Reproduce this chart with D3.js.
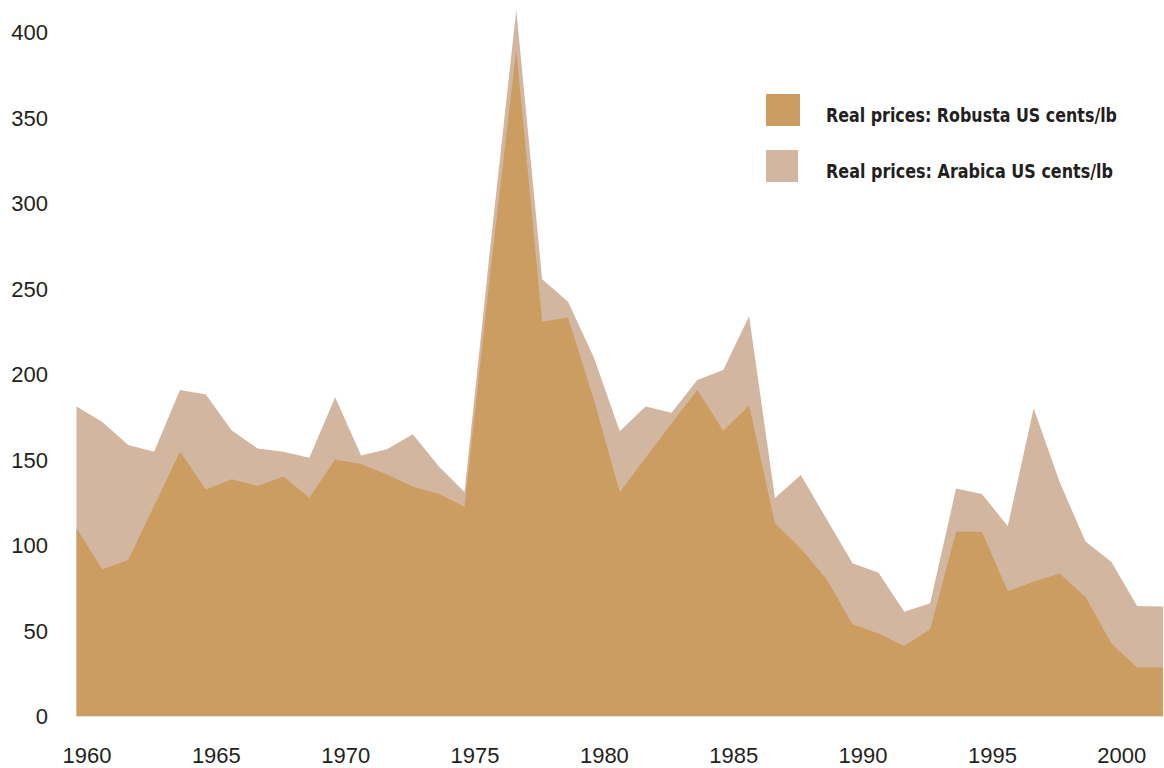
<!DOCTYPE html>
<html lang="en">
<head>
<meta charset="UTF-8">
<title>Coffee real prices</title>
<script src="https://d3js.org/d3.v7.min.js"></script>
<style>
 body {margin: 0; padding: 0; background: #fff;}
 svg {display: block;}
 .tick-label {font-family: "Liberation Sans", Arial, sans-serif; font-size: 22px; fill: #231f20;}
 .legend text {font-family: "Liberation Sans Narrow", "Arial Narrow", "DejaVu Sans Condensed", sans-serif; font-weight: bold; font-size: 19px; fill: #231f20;}
</style>
</head>
<body>
<svg id="chart" width="1164" height="768"></svg>
<script>
const years = d3.range(1960, 2003);
const arabica = [181, 172, 158.5, 154.6, 190.6, 188, 167, 156.5, 154.6, 151,
  186.4, 152.4, 156, 164.7, 146, 131, 275, 413, 255.4, 242.3,
  209.6, 166.5, 181, 177.4, 196.5, 202.3, 233.7, 127.5, 141, 115,
  89.3, 83.8, 61, 65.9, 133, 129.8, 111, 180, 137, 102,
  90.2, 64.3, 64];
const robusta = [109.8, 85.8, 91.2, 123, 154.6, 132.5, 138.4, 134.5, 140, 127.7,
  150, 147.4, 141.3, 134, 130, 122.4, 260, 389.5, 230.6, 233,
  185, 131, 151, 171, 190.6, 166.8, 181.6, 112.7, 98, 80,
  53.6, 48.3, 41, 50.7, 107.8, 107.8, 73, 78.5, 83.4, 69.8,
  42.5, 28.3, 28.4];
const yTicks = [0, 50, 100, 150, 200, 250, 300, 350, 400];
const xTicks = [1960, 1965, 1970, 1975, 1980, 1985, 1990, 1995, 2000];
const legendLabels = ['Real prices: Robusta US cents/lb', 'Real prices: Arabica US cents/lb'];
const colors = {robusta: '#cc9d60', arabica: '#d2b6a0'};

const svg = d3.select('#chart');
const x = d3.scaleLinear().domain([1960, 2002]).range([76.5, 1163]);
const y = d3.scaleLinear().domain([0, 400]).range([716, 32]);

const area = vals => d3.area()
  .x((d, i) => x(years[i]))
  .y0(y(0))
  .y1(d => y(d))(vals);

svg.append('path').attr('d', area(arabica)).attr('fill', colors.arabica);
svg.append('path').attr('d', area(robusta)).attr('fill', colors.robusta);

svg.append('line')
  .attr('x1', x(1960)).attr('x2', x(2002))
  .attr('y1', y(0) + 0.5).attr('y2', y(0) + 0.5)
  .attr('stroke', '#e8dfd8').attr('stroke-width', 1);

// y axis labels, no lines
const yAxis = svg.append('g')
  .attr('transform', 'translate(48,0)')
  .call(d3.axisLeft(y).tickValues(yTicks).tickSize(0).tickPadding(0));
yAxis.select('.domain').remove();
yAxis.selectAll('text').attr('class', 'tick-label').attr('dy', '0.35em')
  .attr('font-family', null).attr('font-size', null).attr('fill', null);

// x axis labels sit a little right of the data points
const xAxis = svg.append('g')
  .attr('transform', 'translate(10,747)')
  .call(d3.axisBottom(x).tickValues(xTicks).tickFormat(d3.format('d')).tickSize(0).tickPadding(0));
xAxis.select('.domain').remove();
xAxis.selectAll('text').attr('class', 'tick-label').attr('dy', '0.71em')
  .attr('font-family', null).attr('font-size', null).attr('fill', null);

const legend = svg.append('g').attr('class', 'legend');
const legendY = d3.scaleOrdinal().domain(legendLabels).range([94, 150]);
const legendFill = d3.scaleOrdinal().domain(legendLabels).range([colors.robusta, colors.arabica]);
legend.selectAll('rect').data(legendLabels).enter().append('rect')
  .attr('x', 766).attr('y', d => legendY(d))
  .attr('width', (d, i) => i === 0 ? 34 : 32).attr('height', 32)
  .attr('fill', d => legendFill(d));
legend.selectAll('text').data(legendLabels).enter().append('text')
  .attr('x', 826).attr('y', d => legendY(d) + 27.5)
  .attr('textLength', (d, i) => i === 0 ? 291 : 287)
  .attr('lengthAdjust', 'spacingAndGlyphs')
  .text(d => d);
</script>
</body>
</html>
